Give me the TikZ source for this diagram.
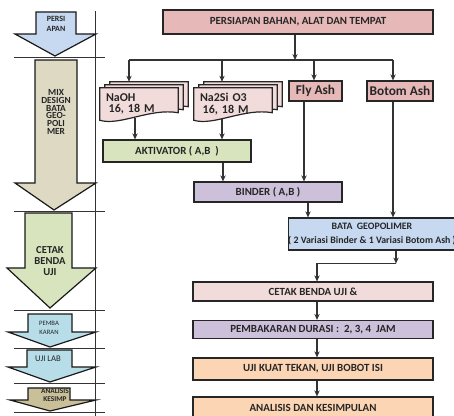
\documentclass[tikz,border=0pt]{standalone}
\usepackage{fontspec}
\setmainfont{Carlito}
\usetikzlibrary{calc,arrows.meta}

\definecolor{pinkbox}{HTML}{E6B9B8}
\definecolor{palepink}{HTML}{F2DCDB}
\definecolor{greenbox}{HTML}{D7E4BD}
\definecolor{purplebox}{HTML}{CCC0DA}
\definecolor{bluebox}{HTML}{C6D9F1}
\definecolor{peachbox}{HTML}{FCD5B4}
\definecolor{aquabox}{HTML}{B7DDE8}
\definecolor{khakibox}{HTML}{DDD9C3}
\definecolor{tanbox}{HTML}{C9BF98}

% stacked documents behind a node
\newcommand{\docstack}[1]{%
  \foreach \dx/\dy in {10/-6,5/-3,0/0}{%
    \filldraw[docsheet] ($(#1.north west)+(\dx,\dy)$) -- ($(#1.north east)+(\dx,\dy)$)
      -- ($(#1.north east)+(\dx,\dy+25)$) .. controls +(-28,-5) and +(20,6) .. ($(#1.south west)+(\dx,\dy)$) -- cycle;
  }}

\begin{document}
\begin{tikzpicture}[x=0.75pt,y=-0.75pt,
    >={Stealth[length=4.5pt,width=4pt]},
    box/.style={draw=black!85, line width=0.9pt, inner sep=0pt, text=black!85,
      font=\fontsize{8.2}{9}\selectfont\bfseries},
    boxsize/.style 2 args={minimum width=#1*0.75pt, minimum height=#2*0.75pt},
    docsheet/.style={fill=palepink, draw=black!85, line width=0.9pt},
    docnode/.style={inner xsep=4.5pt, inner ysep=0pt, text width=49.5pt, align=left,
      minimum height=24pt, text=black!85, font=\fontsize{9}{8.5}\selectfont\bfseries},
    stage/.style={draw=black!90, line width=0.9pt},
    stagetext/.style={align=center, text=black!85, inner sep=0pt},
    conn/.style={->, line width=0.8pt, draw=black!80},
    bus/.style={line width=0.8pt, draw=black!80}]
  \useasboundingbox (0,0) rectangle (454,416);

  % Left column: stages
  \draw[line width=0.6pt, black!80] (95,11) -- (95,416);
  \foreach \y in {57,211,310,348,383,412}
    \draw[line width=0.6pt, black!80] (14,\y) -- (105,\y);

  \filldraw[stage, fill=bluebox] (36,12) -- (76,12) -- (76,34) -- (96,34) -- (55,56) -- (15,34) -- (36,34) -- cycle;
  \filldraw[stage, fill=khakibox] (35,60) -- (77,60) -- (77,183) -- (96,183) -- (54,210) -- (15,183) -- (35,183) -- cycle;
  \filldraw[stage, fill=greenbox] (25,213) -- (72,213) -- (72,268) -- (96,268) -- (50,308) -- (7,268) -- (25,268) -- cycle;
  \filldraw[stage, fill=aquabox] (28,314) -- (72,314) -- (72,332) -- (96,332) -- (50,347) -- (8,332) -- (28,332) -- cycle;
  \filldraw[stage, fill=aquabox] (27,350) -- (72,350) -- (72,367) -- (96,367) -- (50,382) -- (8,367) -- (27,367) -- cycle;
  \filldraw[stage, fill=tanbox] (28,388) -- (70,388) -- (70,400) -- (96,400) -- (50,411) -- (10,400) -- (28,400) -- cycle;

  \node[stagetext, font=\fontsize{6}{7}\selectfont\bfseries] (persi) at (56,24) {PERSI\\APAN};
  \node[stagetext, font=\fontsize{7}{5.8}\selectfont\bfseries] (mix) at (56,112) {MIX\\DESIGN\\BATA\\GEO-\\POLI\\MER};
  \node[stagetext, font=\fontsize{8}{8.3}\selectfont\bfseries] (cetakuji) at (50,261) {CETAK\\BENDA\\UJI};
  \node[stagetext, font=\fontsize{5}{6.5}\selectfont] (pemba) at (49,328) {PEMBA\\KARAN};
  \node[stagetext, font=\fontsize{6.5}{7}\selectfont] (ujilab) at (48,359) {UJI LAB};
  \node[stagetext, font=\fontsize{5.5}{6.5}\selectfont\bfseries] (kesimp) at (55,395) {ANALISIS\\KESIMP};

  % Right column: flow
  \node[box, fill=pinkbox, boxsize={270}{24}] (prep) at (298,22) {PERSIAPAN BAHAN, ALAT DAN TEMPAT};

  \node[docnode, boxsize={78}{32}] (naoh) at (139,104) {};
  \node[docnode, boxsize={78}{32}] (nasio) at (233,104) {};
  \docstack{naoh}
  \docstack{nasio}
  \node[docnode, boxsize={78}{32}] at (naoh) {NaOH\\\hspace{2pt}16, 18 M\\[3pt]};
  \node[docnode, boxsize={78}{32}] at (nasio) {Na2Si O3\\\hspace{2pt}16, 18 M\\[3pt]};

  \node[box, fill=pinkbox, boxsize={53}{20}, font=\fontsize{10}{11}\selectfont\bfseries] (fly) at (315.5,91) {Fly Ash};
  \node[box, fill=pinkbox, boxsize={66}{20}, font=\fontsize{10}{11}\selectfont\bfseries] (botom) at (400,91) {Botom Ash};

  \node[box, fill=greenbox, boxsize={148}{22}] (aktiv) at (177,151) {AKTIVATOR ( A,B~~)};
  \node[box, fill=purplebox, boxsize={148}{20}] (binder) at (268,192) {BINDER ( A,B )};
  \node[box, fill=bluebox, boxsize={166}{32}, align=center, font=\fontsize{7.4}{10}\selectfont\bfseries] (bata) at (372,234)
    {BATA~~GEOPOLIMER\\( 2 Variasi Binder \& 1 Variasi Botom Ash )};

  \node[box, fill=palepink, boxsize={240}{19}] (cetak) at (313,291.5) {CETAK BENDA UJI \&};
  \node[box, fill=purplebox, boxsize={240}{18}] (bakar) at (313,329.5) {PEMBAKARAN DURASI :~~2, 3, 4~~JAM};
  \node[box, fill=peachbox, boxsize={240}{22}] (ujikuat) at (313,369) {UJI KUAT TEKAN, UJI BOBOT ISI};
  \node[box, fill=peachbox, boxsize={240}{22}] (analisis) at (313,408) {ANALISIS DAN KESIMPULAN};

  % Connectors
  \coordinate (split) at (295,60);
  \coordinate (busL) at (129,60);
  \coordinate (busM) at (222,60);
  \coordinate (busF) at (314,60);
  \coordinate (busR) at (393,60);
  \draw[conn] (prep.south -| split) -- (split);
  \draw[bus] (busL) -- (busR);
  \draw[conn] (busL) -- ($(busL |- naoh.north)+(0,-6)$);
  \draw[conn] (busM) -- ($(busM |- nasio.north)+(0,-6)$);
  \draw[conn] (busF) -- (busF |- fly.north);
  \draw[conn] (busR) -- (busR |- botom.north);

  \coordinate (naohout) at ($(naoh.south)+(-4,-2)$);
  \coordinate (nasioout) at ($(nasio.south)+(-11,-2)$);
  \draw[conn] (naohout) -- (naohout |- aktiv.north);
  \draw[conn] (nasioout) -- (nasioout |- aktiv.north);

  \coordinate (aktivout) at ($(aktiv.south)+(46,0)$);
  \coordinate (flyout) at ($(fly.south)+(-11.5,0)$);
  \draw[conn] (aktivout) -- (aktivout |- binder.north);
  \draw[conn] (flyout) -- (flyout |- binder.north);

  \coordinate (binderout) at ($(binder.south)+(40,0)$);
  \coordinate (botomout) at ($(botom.south)+(-7,0)$);
  \draw[conn] (binderout) -- (binderout |- bata.north);
  \draw[conn] (botomout) -- (botomout |- bata.north);

  \coordinate (bataout) at ($(bata.south)+(24,0)$);
  \coordinate (join) at ($(bataout)+(0,13)$);
  \draw[conn] (bataout) -- (join);
  \draw[conn] (join) -| ($(cetak.north)+(4,0)$);

  \draw[conn] ($(cetak.south)+(4,0)$) -- ($(bakar.north)+(4,0)$);
  \draw[conn] ($(bakar.south)+(4,0)$) -- ($(ujikuat.north)+(4,0)$);
  \draw[conn] ($(ujikuat.south)+(4,0)$) -- ($(analisis.north)+(4,0)$);
\end{tikzpicture}
\end{document}
